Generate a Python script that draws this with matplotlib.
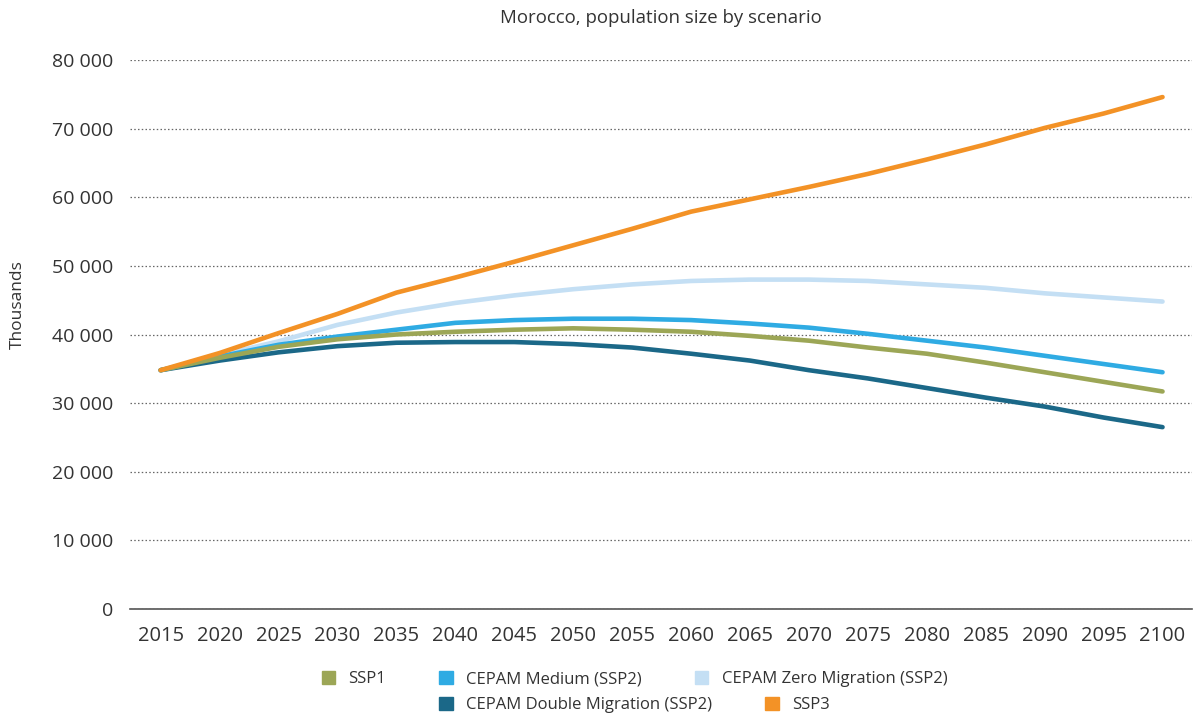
import matplotlib.pyplot as plt
from matplotlib.patches import Patch

# Morocco, population size by scenario (thousands)
years = list(range(2015, 2101, 5))

ssp1 = [34800, 36600, 38200, 39300, 40000, 40400, 40700, 40900, 40700,
        40400, 39800, 39100, 38100, 37200, 35900, 34500, 33100, 31700]
cepam_medium = [34800, 36800, 38500, 39700, 40700, 41700, 42100, 42300, 42300,
                42100, 41600, 41000, 40100, 39100, 38100, 36900, 35700, 34500]
cepam_zero = [34800, 37000, 39000, 41400, 43200, 44600, 45700, 46600, 47300,
              47800, 48000, 48000, 47800, 47300, 46800, 46000, 45400, 44800]
cepam_double = [34800, 36200, 37400, 38300, 38800, 38900, 38900, 38600, 38100,
                37200, 36200, 34800, 33600, 32200, 30800, 29500, 27900, 26500]
ssp3 = [34800, 37300, 40200, 43000, 46100, 48300, 50600, 53000, 55400,
        57900, 59700, 61500, 63400, 65500, 67700, 70100, 72200, 74600]

y_ticks = [0, 10000, 20000, 30000, 40000, 50000, 60000, 70000, 80000]

COLORS = {
    "SSP1": "#9ca656",
    "CEPAM Medium (SSP2)": "#2fabe3",
    "CEPAM Zero Migration (SSP2)": "#c4dff4",
    "CEPAM Double Migration (SSP2)": "#1b6888",
    "SSP3": "#f39226",
}
TEXT = "#333333"

plt.rcParams["font.family"] = ["Open Sans", "DejaVu Sans"]

fig = plt.figure(figsize=(11.97, 7.18), dpi=100)
ax = fig.add_axes([130 / 1197, 109 / 718, 1062 / 1197, 549 / 718])

series = [
    ("CEPAM Zero Migration (SSP2)", cepam_zero),
    ("CEPAM Double Migration (SSP2)", cepam_double),
    ("CEPAM Medium (SSP2)", cepam_medium),
    ("SSP1", ssp1),
    ("SSP3", ssp3),
]
for name, vals in series:
    ax.plot(years, vals, color=COLORS[name], lw=3.3,
            solid_capstyle="round", solid_joinstyle="round")

ax.set_xlim(2012.4, 2102.5)
ax.set_ylim(0, 80000)
ax.set_xticks(years)
ax.set_xticklabels([str(y) for y in years])
ax.set_yticks(y_ticks)
ax.set_yticklabels([f"{v:,}".replace(",", " ") for v in y_ticks])
ax.tick_params(axis="both", length=0, colors=TEXT)
ax.tick_params(axis="y", pad=12, labelsize=14)
ax.tick_params(axis="x", pad=12, labelsize=14.5)

ax.grid(axis="y", linestyle=(0, (1.2, 1.8)), color="#666666", lw=0.9)
ax.set_axisbelow(True)
for s in ["top", "right", "left"]:
    ax.spines[s].set_visible(False)
ax.spines["bottom"].set_color("#555555")
ax.spines["bottom"].set_linewidth(1.2)

ax.set_ylabel("Thousands", fontsize=12.5, color=TEXT)
ax.yaxis.set_label_coords(-0.0985, 0.554)
fig.text(661 / 1197, 1 - 18 / 718, "Morocco, population size by scenario",
         ha="center", va="center", fontsize=13.4, color=TEXT)

row1 = ["SSP1", "CEPAM Medium (SSP2)", "CEPAM Zero Migration (SSP2)"]
row2 = ["CEPAM Double Migration (SSP2)", "SSP3"]
for names, ypos in [(row1, 1 - 679 / 718), (row2, 1 - 705 / 718)]:
    handles = [Patch(color=COLORS[n], label=n) for n in names]
    fig.legend(handles=handles, loc="center", bbox_to_anchor=(0.53, ypos),
               ncol=len(names), frameon=False, fontsize=12,
               handlelength=0.8, handleheight=0.8, columnspacing=3.2,
               handletextpad=0.8, labelcolor=TEXT)

fig.savefig("out.png", dpi=100)
